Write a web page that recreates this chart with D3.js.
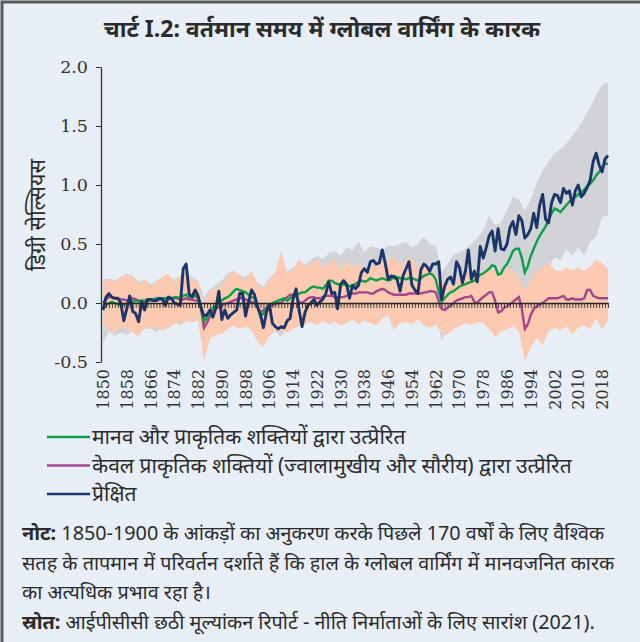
<!DOCTYPE html>
<html>
<head>
<meta charset="utf-8">
<script src="https://cdn.jsdelivr.net/npm/d3@7"></script>
<style>
  html, body { margin: 0; padding: 0; background: #e7eef5; }
  svg { display: block; }
  .hi { font-family: "Noto Sans", "Lato", sans-serif; fill: #2b2b2b; }
  .num { font-family: "DejaVu Serif", serif; fill: #333; }
</style>
</head>
<body>
<svg id="chart"></svg>
<script>
// yearly series, 1850-2020 (°C relative to 1850-1900)
const firstYear = 1850
const observed = [
  -0.06, 0.05, 0.08, 0.05, 0.04, 0.04, 0.00, -0.15, -0.05, 0.06,
  -0.07, -0.09, -0.16, 0.01, -0.06, 0.03, 0.03, 0.02, 0.02, 0.04,
  0.03, -0.02, 0.05, 0.04, 0.00, -0.01, -0.02, 0.29, 0.33, 0.08,
  0.05, 0.11, 0.06, -0.04, -0.11, -0.10, -0.06, -0.12, -0.04, 0.10,
  -0.14, -0.06, -0.13, -0.10, -0.08, -0.06, 0.08, 0.08, -0.11, 0.01,
  0.11, 0.07, -0.03, -0.10, -0.21, -0.08, -0.01, -0.17, -0.20, -0.22,
  -0.20, -0.21, -0.15, -0.13, 0.04, 0.12, -0.06, -0.20, -0.08, -0.02,
  0.00, 0.03, -0.02, 0.01, 0.03, 0.08, 0.18, 0.08, 0.09, -0.05,
  0.16, 0.19, 0.16, 0.04, 0.15, 0.12, 0.15, 0.26, 0.29, 0.26,
  0.35, 0.36, 0.33, 0.34, 0.45, 0.34, 0.20, 0.23, 0.22, 0.20,
  0.10, 0.23, 0.29, 0.35, 0.15, 0.11, 0.08, 0.28, 0.33, 0.31,
  0.27, 0.33, 0.33, 0.35, 0.03, 0.14, 0.20, 0.22, 0.16, 0.35,
  0.30, 0.17, 0.27, 0.45, 0.20, 0.27, 0.18, 0.48, 0.38, 0.47,
  0.57, 0.61, 0.44, 0.63, 0.46, 0.45, 0.50, 0.64, 0.69, 0.58,
  0.74, 0.70, 0.55, 0.58, 0.63, 0.76, 0.64, 0.83, 0.92, 0.71,
  0.68, 0.85, 0.92, 0.91, 0.85, 0.97, 0.93, 0.95, 0.83, 0.95,
  1.00, 0.90, 0.93, 0.98, 1.04, 1.20, 1.27, 1.17, 1.11, 1.22,
  1.25
]
const humanNatural = [
  -0.05, -0.02, 0.00, 0.01, 0.00, -0.01, -0.02, -0.01, -0.01, 0.00,
  0.01, 0.02, 0.01, 0.02, 0.02, 0.03, 0.02, 0.03, 0.04, 0.03,
  0.04, 0.04, 0.03, 0.04, 0.05, 0.05, 0.04, 0.06, 0.07, 0.05,
  0.05, 0.06, 0.04, -0.02, -0.16, -0.12, -0.07, -0.04, -0.02, 0.00,
  0.02, 0.04, 0.05, 0.07, 0.10, 0.12, 0.11, 0.10, 0.09, 0.07,
  0.05, 0.04, -0.03, -0.11, -0.09, -0.05, -0.02, 0.00, 0.01, 0.02,
  0.03, 0.04, 0.02, 0.04, 0.06, 0.07, 0.08, 0.09, 0.09, 0.11,
  0.13, 0.14, 0.13, 0.13, 0.12, 0.15, 0.19, 0.19, 0.17, 0.16,
  0.15, 0.16, 0.15, 0.14, 0.15, 0.16, 0.18, 0.19, 0.18, 0.19,
  0.21, 0.20, 0.19, 0.20, 0.21, 0.20, 0.19, 0.20, 0.23, 0.22,
  0.21, 0.21, 0.20, 0.21, 0.21, 0.20, 0.19, 0.21, 0.23, 0.24,
  0.25, 0.24, 0.20, 0.10, 0.01, 0.04, 0.07, 0.09, 0.10, 0.12,
  0.14, 0.15, 0.16, 0.17, 0.18, 0.19, 0.21, 0.24, 0.25, 0.27,
  0.29, 0.32, 0.31, 0.24, 0.25, 0.30, 0.33, 0.38, 0.44, 0.46,
  0.46, 0.38, 0.26, 0.31, 0.40, 0.46, 0.52, 0.57, 0.61, 0.65,
  0.70, 0.76, 0.80, 0.79, 0.77, 0.80, 0.83, 0.86, 0.88, 0.90,
  0.92, 0.94, 0.96, 0.99, 1.01, 1.04, 1.08, 1.11, 1.15, 1.18,
  1.18
]
const naturalOnly = [
  0.00, 0.03, 0.05, 0.05, 0.04, 0.04, 0.03, 0.03, 0.02, 0.03,
  0.04, 0.03, 0.02, 0.02, 0.01, 0.02, 0.03, 0.03, 0.03, 0.04,
  0.04, 0.03, 0.04, 0.04, 0.04, 0.04, 0.03, 0.03, 0.04, 0.03,
  0.03, 0.02, 0.02, -0.05, -0.21, -0.17, -0.11, -0.07, -0.05, -0.03,
  -0.02, -0.01, 0.00, 0.01, 0.02, 0.03, 0.04, 0.04, 0.03, 0.02,
  0.01, 0.00, -0.04, -0.08, -0.06, -0.04, -0.03, -0.02, -0.01, 0.00,
  0.00, 0.03, 0.05, 0.07, 0.07, 0.05, 0.01, 0.00, 0.02, 0.04,
  0.05, 0.05, 0.04, 0.04, 0.05, 0.06, 0.06, 0.06, 0.05, 0.05,
  0.05, 0.05, 0.06, 0.07, 0.08, 0.08, 0.09, 0.09, 0.09, 0.09,
  0.08, 0.08, 0.10, 0.11, 0.12, 0.11, 0.09, 0.08, 0.07, 0.07,
  0.07, 0.07, 0.07, 0.08, 0.08, 0.08, 0.08, 0.08, 0.09, 0.09,
  0.10, 0.10, 0.09, 0.02, -0.05, -0.06, -0.04, -0.02, 0.00, 0.02,
  0.03, 0.04, 0.05, 0.05, 0.06, 0.01, 0.00, 0.03, 0.05, 0.07,
  0.09, 0.09, 0.02, -0.08, -0.07, -0.04, -0.03, -0.01, 0.01, 0.03,
  0.05, -0.05, -0.22, -0.18, -0.10, -0.05, -0.03, -0.01, 0.00, 0.02,
  0.04, 0.04, 0.04, 0.04, 0.05, 0.06, 0.03, 0.03, 0.04, 0.03,
  0.03, 0.03, 0.04, 0.11, 0.11, 0.06, 0.05, 0.04, 0.04, 0.04,
  0.04
]

// 5-95% ranges, every second year 1850-2020
const bandStep = 2
const hnUpper = [
  0.20, 0.21, 0.19, 0.22, 0.25, 0.23, 0.18, 0.20, 0.16, 0.19,
  0.22, 0.24, 0.20, 0.23, 0.27, 0.22, 0.19, 0.05, 0.12, 0.15,
  0.19, 0.25, 0.27, 0.24, 0.22, 0.27, 0.17, 0.14, 0.21, 0.26,
  0.35, 0.27, 0.30, 0.34, 0.33, 0.36, 0.40, 0.37, 0.42, 0.44,
  0.40, 0.47, 0.45, 0.52, 0.43, 0.48, 0.47, 0.45, 0.49, 0.48,
  0.50, 0.52, 0.47, 0.50, 0.56, 0.50, 0.48, 0.26, 0.33, 0.41,
  0.43, 0.46, 0.50, 0.55, 0.62, 0.74, 0.66, 0.68, 0.78, 0.90,
  0.88, 0.78, 0.88, 1.02, 1.12, 1.20, 1.27, 1.30, 1.35, 1.42,
  1.48, 1.57, 1.66, 1.76, 1.85, 1.87
]
const hnLower = [
  -0.34, -0.24, -0.28, -0.25, -0.27, -0.24, -0.26, -0.22, -0.21, -0.25,
  -0.20, -0.22, -0.16, -0.19, -0.15, -0.16, -0.15, -0.42, -0.27, -0.22,
  -0.20, -0.18, -0.17, -0.16, -0.18, -0.18, -0.30, -0.34, -0.26, -0.24,
  -0.29, -0.20, -0.18, -0.15, -0.17, -0.12, -0.10, -0.11, -0.09, -0.10,
  -0.08, -0.10, -0.07, -0.08, -0.06, -0.07, -0.05, -0.04, -0.06, -0.05,
  -0.06, -0.04, -0.07, -0.05, -0.06, -0.04, -0.08, -0.32, -0.22, -0.12,
  -0.08, -0.04, -0.02, 0.00, 0.03, 0.04, -0.02, -0.05, 0.02, 0.06,
  0.08, -0.15, -0.05, 0.10, 0.20, 0.30, 0.39, 0.36, 0.46, 0.40,
  0.47, 0.40, 0.52, 0.56, 0.73, 0.74
]
const natUpper = [
  0.18, 0.20, 0.17, 0.22, 0.24, 0.22, 0.16, 0.19, 0.14, 0.18,
  0.22, 0.25, 0.18, 0.22, 0.26, 0.20, 0.18, -0.02, 0.10, 0.12,
  0.15, 0.22, 0.28, 0.22, 0.20, 0.28, 0.15, 0.12, 0.20, 0.26,
  0.44, 0.25, 0.28, 0.38, 0.30, 0.34, 0.37, 0.30, 0.33, 0.38,
  0.28, 0.35, 0.30, 0.33, 0.28, 0.30, 0.33, 0.35, 0.37, 0.39,
  0.32, 0.36, 0.38, 0.30, 0.33, 0.28, 0.25, 0.18, 0.15, 0.16,
  0.22, 0.24, 0.25, 0.27, 0.25, 0.32, 0.26, 0.22, 0.30, 0.27,
  0.22, 0.11, 0.20, 0.27, 0.30, 0.35, 0.28, 0.27, 0.30, 0.28,
  0.30, 0.27, 0.31, 0.37, 0.34, 0.29
]
const natLower = [
  -0.17, -0.22, -0.26, -0.20, -0.22, -0.25, -0.29, -0.20, -0.22, -0.19,
  -0.24, -0.20, -0.18, -0.16, -0.15, -0.17, -0.14, -0.49, -0.30, -0.27,
  -0.26, -0.22, -0.19, -0.22, -0.20, -0.23, -0.33, -0.37, -0.28, -0.24,
  -0.23, -0.25, -0.22, -0.20, -0.18, -0.16, -0.19, -0.15, -0.18, -0.16,
  -0.19, -0.17, -0.14, -0.18, -0.15, -0.17, -0.19, -0.13, -0.11, -0.23,
  -0.17, -0.16, -0.18, -0.14, -0.19, -0.21, -0.18, -0.25, -0.27, -0.22,
  -0.20, -0.17, -0.19, -0.16, -0.17, -0.22, -0.29, -0.24, -0.22, -0.20,
  -0.24, -0.49, -0.38, -0.29, -0.36, -0.24, -0.21, -0.23, -0.20, -0.26,
  -0.21, -0.19, -0.22, -0.13, -0.22, -0.15
]

const yTicks = [-0.5, 0.0, 0.5, 1.0, 1.5, 2.0]
const xTickYears = [1850, 1858, 1866, 1874, 1882, 1890, 1898, 1906, 1914, 1922,
  1930, 1938, 1946, 1954, 1962, 1970, 1978, 1986, 1994, 2002, 2010, 2018]

const titleText = "चार्ट I.2: वर्तमान समय में ग्लोबल वार्मिंग के कारक"
const yLabel = "डिग्री सेल्सियस"
const legendItems = [
  { label: "मानव और प्राकृतिक शक्तियों द्वारा उत्प्रेरित", color: "#0a9f48" },
  { label: "केवल प्राकृतिक शक्तियों (ज्वालामुखीय और सौरीय) द्वारा उत्प्रेरित", color: "#a3468d" },
  { label: "प्रेक्षित", color: "#1a3569" },
]
const noteLines = [
  ["नोट:", " 1850-1900 के आंकड़ों का अनुकरण करके पिछले 170 वर्षों के लिए वैश्विक"],
  ["", "सतह के तापमान में परिवर्तन दर्शाते हैं कि हाल के ग्लोबल वार्मिंग में मानवजनित कारक"],
  ["", "का अत्यधिक प्रभाव रहा है।"],
  ["स्रोत:", " आईपीसीसी छठी मूल्यांकन रिपोर्ट - नीति निर्माताओं के लिए सारांश (2021)."],
]

const W = 640, H = 642
const svg = d3.select("#chart").attr("width", W).attr("height", H)

svg.append("rect").attr("width", W).attr("height", H).attr("fill", "#e7eef5")
// frame on left and top
svg.append("path").attr("d", `M2,${H} V2 H${W}`).attr("fill", "none")
  .attr("stroke", "#5a5a5a").attr("stroke-width", 3)

svg.append("text").attr("class", "hi").attr("x", 322).attr("y", 37)
  .attr("text-anchor", "middle").attr("font-size", 23).attr("font-weight", "bold")
  .text(titleText)

const x = d3.scaleLinear().domain([1850, 2020]).range([103, 608])
const y = d3.scaleLinear().domain([-0.5, 2.0]).range([362, 67])

const yearly = (arr) => arr.map((v, i) => ({ year: firstYear + i, v }))
const band = (lo, hi) => lo.map((v, i) => ({ year: firstYear + i * bandStep, lo: v, hi: hi[i] }))

const area = d3.area().x((d) => x(d.year)).y0((d) => y(d.lo)).y1((d) => y(d.hi))
const line = d3.line().x((d) => x(d.year)).y((d) => y(d.v))

const plot = svg.append("g")
plot.append("path").attr("d", area(band(hnLower, hnUpper))).attr("fill", "#d2d3d6")
plot.append("path").attr("d", area(band(natLower, natUpper))).attr("fill", "#fccab0")

// zero line with a tick for every year
const allYears = observed.map((_d, i) => firstYear + i)
svg.append("g").attr("transform", `translate(0,${y(0)})`)
  .call(d3.axisBottom(x).tickValues(allYears).tickSize(5).tickSizeOuter(0).tickFormat(""))
  .call((g) => g.select(".domain").attr("stroke", "#222").attr("stroke-width", 1.5))
  .call((g) => g.selectAll(".tick line").attr("stroke", "#333").attr("stroke-width", 0.9))

plot.append("path").attr("d", line(yearly(naturalOnly)))
  .attr("fill", "none").attr("stroke", legendItems[1].color).attr("stroke-width", 2.4)
plot.append("path").attr("d", line(yearly(humanNatural)))
  .attr("fill", "none").attr("stroke", legendItems[0].color).attr("stroke-width", 2.4)
plot.append("path").attr("d", line(yearly(observed)))
  .attr("fill", "none").attr("stroke", legendItems[2].color).attr("stroke-width", 2.9)
  .attr("stroke-linejoin", "round")

// y axis
svg.append("g").attr("transform", "translate(101,0)")
  .call(d3.axisLeft(y).tickValues(yTicks).tickSize(5).tickSizeOuter(0).tickPadding(8)
    .tickFormat((d) => d.toFixed(1)))
  .call((g) => g.select(".domain").attr("stroke", "#333").attr("stroke-width", 1.3))
  .call((g) => g.selectAll(".tick line").attr("stroke", "#333"))
  .call((g) => g.selectAll(".tick text").attr("class", "num").attr("font-size", 17.5)
    .attr("fill", "#333"))

svg.append("text").attr("class", "hi")
  .attr("transform", "translate(45,215) rotate(-90)")
  .attr("text-anchor", "middle").attr("font-size", 21.5).text(yLabel)

// year labels
svg.append("g").selectAll("text").data(xTickYears).join("text")
  .attr("class", "num").attr("font-size", 16)
  .attr("transform", (d) => `translate(${x(d) + 6},369) rotate(-90)`)
  .attr("text-anchor", "end").text((d) => d)

// legend
const leg = svg.append("g").selectAll("g").data(legendItems).join("g")
  .attr("transform", (_d, i) => `translate(47,${437 + i * 28.5})`)
leg.append("line").attr("x1", 0).attr("x2", 43).attr("stroke", (d) => d.color).attr("stroke-width", 2.5)
leg.append("text").attr("class", "hi").attr("x", 45).attr("y", 7).attr("font-size", 21)
  .text((d) => d.label)

// note and source
const notes = svg.append("g").selectAll("text").data(noteLines).join("text")
  .attr("class", "hi").attr("x", 22).attr("y", (_d, i) => 540 + i * 29.5).attr("font-size", 19.8)
notes.append("tspan").attr("font-weight", "bold").text((d) => d[0])
notes.append("tspan").text((d) => d[1])
</script>
</body>
</html>
